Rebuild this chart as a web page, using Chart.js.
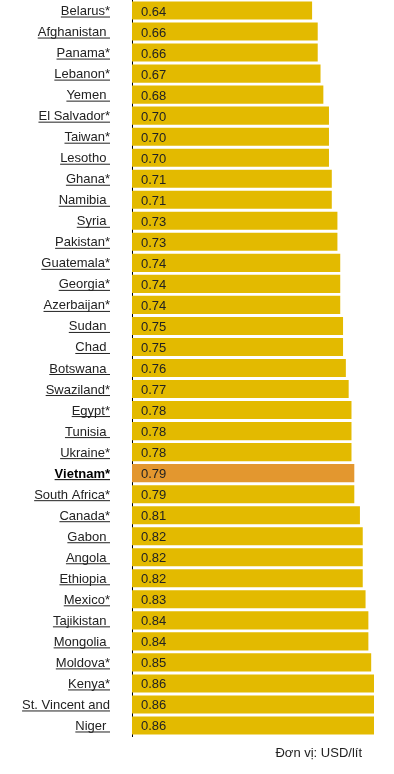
<!DOCTYPE html>
<html lang="vi">
<head>
    <meta charset="UTF-8">
    <title>Giá xăng</title>
    <script src="https://cdn.jsdelivr.net/npm/chart.js"></script>
    <style>
        html, body { margin: 0; padding: 0; background: #fff; }
        #wrap { width: 394px; height: 774px; }
    </style>
</head>
<body>
    <div id="wrap"><canvas id="priceChart"></canvas></div>

    <script>
        // Dữ liệu
        const countries = ['Belarus*', 'Afghanistan ', 'Panama*', 'Lebanon*', 'Yemen ', 'El Salvador*',
            'Taiwan*', 'Lesotho ', 'Ghana*', 'Namibia ', 'Syria ', 'Pakistan*', 'Guatemala*', 'Georgia*',
            'Azerbaijan*', 'Sudan ', 'Chad ', 'Botswana ', 'Swaziland*', 'Egypt*', 'Tunisia ', 'Ukraine*',
            'Vietnam*', 'South Africa*', 'Canada*', 'Gabon ', 'Angola ', 'Ethiopia ', 'Mexico*',
            'Tajikistan ', 'Mongolia ', 'Moldova*', 'Kenya*', 'St. Vincent and', 'Niger '];
        const prices = [0.64, 0.66, 0.66, 0.67, 0.68, 0.70, 0.70, 0.70, 0.71, 0.71, 0.73, 0.73, 0.74, 0.74,
            0.74, 0.75, 0.75, 0.76, 0.77, 0.78, 0.78, 0.78, 0.79, 0.79, 0.81, 0.82, 0.82, 0.82, 0.83,
            0.84, 0.84, 0.85, 0.86, 0.86, 0.86];
        const highlight = 'Vietnam*';
        const unitNote = 'Đơn vị: USD/lít';

        const FONT = '13px "Liberation Sans", Arial, sans-serif';
        const BOLD = 'bold 13px "Liberation Sans", Arial, sans-serif';

        // Nhãn quốc gia có gạch chân, giá trị trong cột, ghi chú đơn vị
        const labelPlugin = {
            id: 'labels',
            afterDatasetsDraw(chart) {
                const c = chart.ctx;
                const y = chart.scales.y;
                const area = chart.chartArea;
                const meta = chart.getDatasetMeta(0);
                c.save();
                c.textBaseline = 'alphabetic';
                countries.forEach((name, i) => {
                    const yc = y.getPixelForValue(i);
                    const isHi = name === highlight;
                    c.font = isHi ? BOLD : FONT;
                    c.fillStyle = isHi ? '#000' : '#222';
                    c.textAlign = 'right';
                    const right = 110;
                    c.fillText(name, right, yc + 4.5);
                    const w = c.measureText(name).width;
                    c.fillRect(right - w, yc + 6, w, 1);

                    c.font = FONT;
                    c.fillStyle = '#222';
                    c.textAlign = 'left';
                    c.fillText(prices[i].toFixed(2), meta.data[i].base + 9, yc + 5);
                });
                c.font = FONT;
                c.fillStyle = '#222';
                c.textAlign = 'right';
                c.fillText(unitNote, 362, 757);
                c.restore();
            }
        };

        new Chart(document.getElementById('priceChart'), {
            type: 'bar',
            data: {
                labels: countries,
                datasets: [{
                    data: prices,
                    backgroundColor: countries.map(n => n === highlight ? '#E3972F' : '#E3BA00'),
                    borderWidth: 0,
                    barPercentage: 0.86,
                    categoryPercentage: 1.0
                }]
            },
            options: {
                indexAxis: 'y',
                responsive: true,
                maintainAspectRatio: false,
                animation: false,
                layout: { padding: { top: 0, right: 20, bottom: 38, left: 0 } },
                plugins: {
                    legend: { display: false },
                    tooltip: { enabled: false }
                },
                scales: {
                    x: { display: false, min: 0, max: 0.86 },
                    y: {
                        grid: { display: false },
                        border: { display: true, color: '#000', width: 1 },
                        ticks: { display: false },
                        afterFit(scale) { scale.width = 132; }
                    }
                }
            },
            plugins: [labelPlugin]
        });
    </script>
</body>
</html>
